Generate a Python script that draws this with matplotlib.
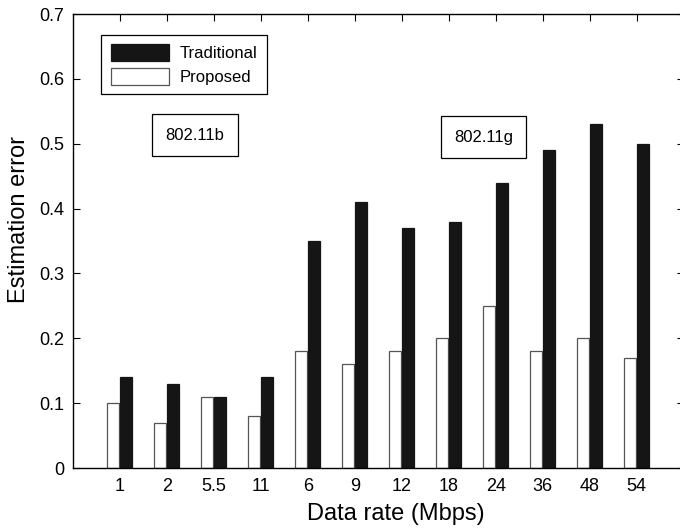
import numpy as np
import matplotlib.pyplot as plt

# data rates (categories) and estimation errors
rates = ['1', '2', '5.5', '11', '6', '9', '12', '18', '24', '36', '48', '54']
proposed = [0.10, 0.07, 0.11, 0.08, 0.18, 0.16, 0.18, 0.20, 0.25, 0.18, 0.20, 0.17]
traditional = [0.14, 0.13, 0.11, 0.14, 0.35, 0.41, 0.37, 0.38, 0.44, 0.49, 0.53, 0.50]

plt.rcParams['font.family'] = ['Liberation Sans', 'DejaVu Sans']

fig = plt.figure(figsize=(6.8, 5.31), dpi=100)
ax = fig.add_axes([0.107, 0.1186, 0.8985, 0.855])

x = np.arange(1, len(rates) + 1)
w = 0.25
ax.bar(x - 0.14, proposed, w, color='white', edgecolor='#555555', linewidth=0.9,
       label='Proposed', zorder=2)
ax.bar(x + 0.14, traditional, w, color='#151515', edgecolor='#151515', linewidth=0.9,
       label='Traditional', zorder=2)

ax.set_xlim(0, 13)
ax.set_ylim(0, 0.7)
ax.set_xticks(x)
ax.set_xticklabels(rates)
ax.set_yticks(np.arange(0, 0.71, 0.1))
ax.set_yticklabels(['0', '0.1', '0.2', '0.3', '0.4', '0.5', '0.6', '0.7'])
ax.tick_params(direction='in', top=True, right=True, labelsize=13, length=5, width=0.8)
ax.tick_params(axis='x', pad=7)
ax.tick_params(axis='y', pad=6)
for s in ax.spines.values():
    s.set_linewidth(1.0)

ax.set_xlabel('Data rate (Mbps)', fontsize=17)
ax.set_ylabel('Estimation error', fontsize=17)
ax.xaxis.set_label_coords(0.5286, -0.077)
ax.yaxis.set_label_coords(-0.070, 0.548)

# legend: traditional first, like the original
h, l = ax.get_legend_handles_labels()
leg = ax.legend([h[1], h[0]], [l[1], l[0]], loc='upper left', bbox_to_anchor=(0.047, 0.954),
                borderaxespad=0, fancybox=False, edgecolor='black', fontsize=12,
                handlelength=3.5, handleheight=1.2, borderpad=0.55, labelspacing=0.4,
                handletextpad=0.65, framealpha=1)
leg.get_frame().set_linewidth(0.9)

box = dict(boxstyle='square,pad=0.8', facecolor='white', edgecolor='black', linewidth=0.9)
ax.text(2.6, 0.513, '802.11b', ha='center', va='center', fontsize=12, bbox=box)
ax.text(8.74, 0.51, '802.11g', ha='center', va='center', fontsize=12, bbox=box)

fig.savefig('out.png', dpi=100)
